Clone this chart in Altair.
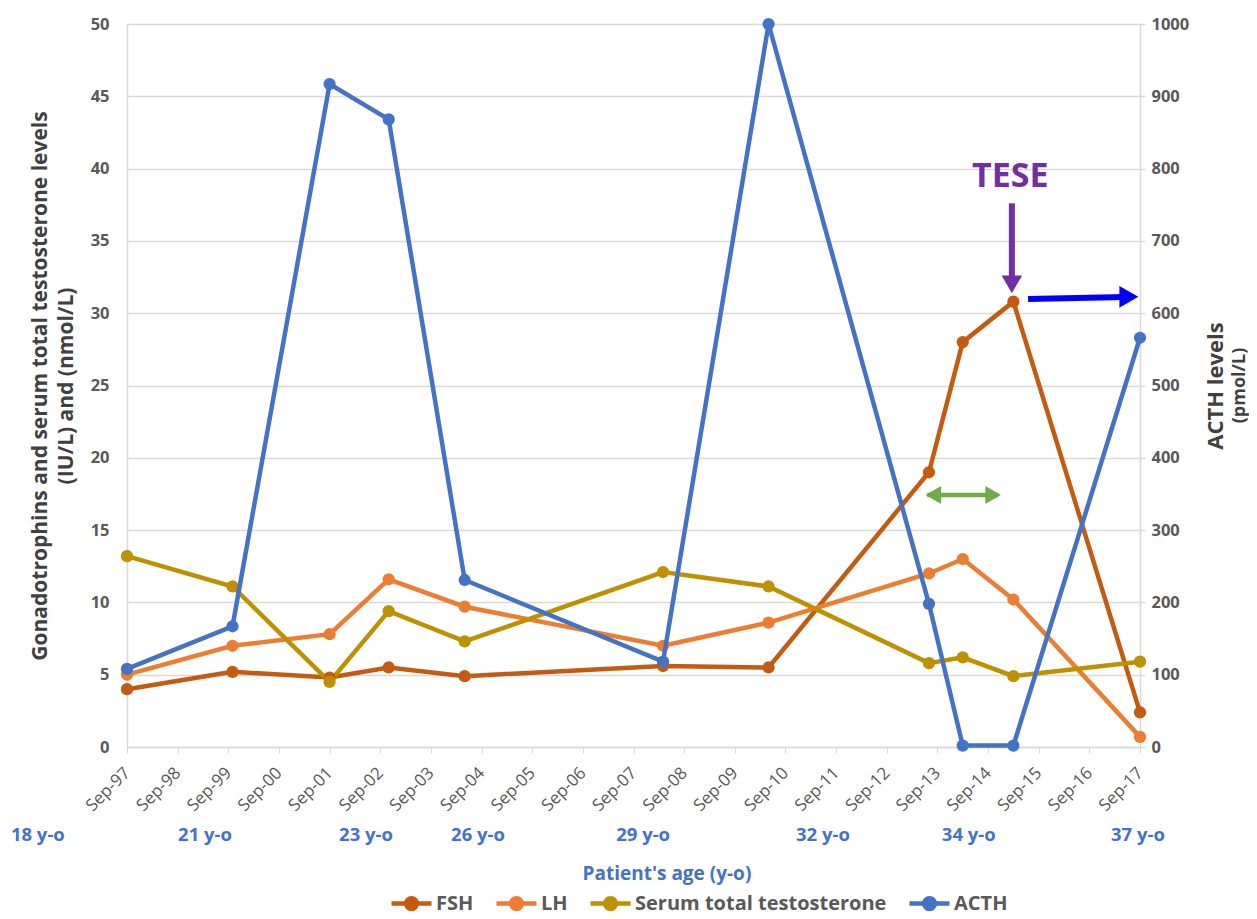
import json
import altair as alt
import pandas as pd

# ---------------- data ----------------
DATES = ["1997-09", "1999-10", "2001-09", "2002-11", "2004-05", "2008-04",
         "2010-05", "2013-07", "2014-03", "2015-03", "2017-09"]
FSH = [4.0, 5.2, 4.8, 5.5, 4.9, 5.6, 5.5, 19.0, 28.0, 30.8, 2.4]
LH = [5.0, 7.0, 7.8, 11.6, 9.7, 7.0, 8.6, 12.0, 13.0, 10.2, 0.7]
TESTO = [13.2, 11.1, 4.5, 9.4, 7.3, 12.1, 11.1, 5.8, 6.2, 4.9, 5.9]
ACTH = [108, 167, 917, 868, 231, 118, 1000, 198, 2, 2, 566]

SERIES = ["FSH", "LH", "Serum total testosterone", "ACTH"]
COLORS = ["#C55A11", "#ED7D31", "#BF9000", "#4472C4"]

TICK_LABELS = ["Sep-97", "Sep-98", "Sep-99", "Sep-00", "Sep-01", "Sep-02", "Sep-03",
               "Sep-04", "Sep-05", "Sep-06", "Sep-07", "Sep-08", "Sep-09", "Sep-10",
               "Sep-11", "Sep-12", "Sep-13", "Sep-14", "Sep-15", "Sep-16", "Sep-17"]
LEFT_TICKS = [0, 5, 10, 15, 20, 25, 30, 35, 40, 45, 50]
RIGHT_TICKS = [0, 100, 200, 300, 400, 500, 600, 700, 800, 900, 1000]

AGE_LABELS = ["18 y-o", "21 y-o", "23 y-o", "26 y-o", "29 y-o", "32 y-o", "34 y-o", "37 y-o"]
AGE_X = [-1.76, 1.54, 4.72, 6.93, 10.19, 13.74, 16.62, 19.96]

# annotation arrows (years since Sep-97, left-axis units)
ARROW_X1 = [17.47, 17.79, 15.80]
ARROW_X2 = [17.47, 19.70, 17.20]
ARROW_Y1 = [37.6, 30.98, 17.43]
ARROW_Y2 = [32.3, 31.12, 17.43]
ARROW_COLOR = ["#7030A0", "#0000FF", "#70AD47"]
ARROW_W = [6, 6, 4.5]

HEAD_X = [17.47, 19.78, 15.92, 17.10]
HEAD_Y = [32.0, 31.13, 17.43, 17.43]
HEAD_SHAPE = ["triangle-down", "triangle-right", "triangle-left", "triangle-right"]
HEAD_COLOR = ["#7030A0", "#0000FF", "#70AD47", "#70AD47"]
HEAD_SIZE = [420, 480, 320, 320]

FONT = "Open Sans"
GRAY = "#595959"
DARK = "#404040"


def to_years(d):
    y, m = d.split("-")
    return (int(y) - 1997) + (int(m) - 9) / 12.0


XS = [to_years(d) for d in DATES]

rows = []
for name, vals in zip(SERIES[:3], [FSH, LH, TESTO]):
    for x, v in zip(XS, vals):
        rows.append({"x": x, "value": v, "series": name})
df_left = pd.DataFrame(rows)
df_acth = pd.DataFrame({"x": XS, "value": ACTH, "series": "ACTH"})

df_arrows = pd.DataFrame({"x1": ARROW_X1, "x2": ARROW_X2, "y1": ARROW_Y1, "y2": ARROW_Y2,
                          "color": ARROW_COLOR, "w": ARROW_W})
df_heads = pd.DataFrame({"x": HEAD_X, "y": HEAD_Y, "shape": HEAD_SHAPE,
                         "color": HEAD_COLOR, "size": HEAD_SIZE})
df_tese = pd.DataFrame({"x": [17.44], "y": [39.4], "t": ["TESE"]})
df_age = pd.DataFrame({"x": AGE_X, "t": AGE_LABELS})
df_age_title = pd.DataFrame({"x": [10.66], "t": ["Patient's age (y-o)"]})

W, H = 1013, 723

xscale = alt.Scale(domain=[0, 20], nice=False, zero=False)
lscale = alt.Scale(domain=[0, 50], nice=False, zero=True)
rscale = alt.Scale(domain=[0, 1000], nice=False, zero=True)
cscale = alt.Scale(domain=SERIES, range=COLORS)

x_axis = alt.Axis(
    values=list(range(21)),
    labelExpr=json.dumps(TICK_LABELS) + "[datum.value]",
    labelAngle=315, labelAlign="right", labelBaseline="middle", labelPadding=17,
    labelFont=FONT, labelFontSize=17, labelColor=GRAY,
    grid=False, ticks=True, tickSize=6, tickColor="#D9D9D9", tickWidth=1,
    domainColor="#D9D9D9", domainWidth=1.5, title=None, labelOverlap=False,
)

LEG_PATH = ("M-1,0L1,0M-0.27,0A0.27,0.27,0,1,1,0.27,0"
            "A0.27,0.27,0,1,1,-0.27,0Z")
legend = alt.Legend(
    orient="none", legendX=262, legendY=857, direction="horizontal", title=None,
    symbolType=LEG_PATH, symbolSize=1600, symbolStrokeWidth=4.5,
    labelFont=FONT, labelFontSize=20, labelFontWeight="bold", labelColor=GRAY,
    labelOffset=2, columnPadding=13, labelLimit=400,
)

color_enc = alt.Color("series:N", scale=cscale, legend=legend, sort=SERIES)

left_axis = alt.Axis(
    values=LEFT_TICKS, grid=True, gridColor="#D9D9D9", gridWidth=1.5,
    ticks=False, domain=True, domainColor="#D9D9D9", domainWidth=1.5,
    labelFont=FONT, labelFontSize=16.5, labelFontWeight="bold", labelColor=GRAY,
    labelPadding=18,
    title=["Gonadotrophins and serum total testosterone levels", "(IU/L) and (nmol/L)"],
    titleFont=FONT, titleFontSize=21, titleFontWeight="bold", titleColor=DARK,
    titleLineHeight=26, titleAngle=270, titleAlign="center", titleBaseline="middle",
    titleX=-87, titleY=H / 2,
)

right_axis = alt.Axis(
    orient="right", values=RIGHT_TICKS, grid=False, format="d",
    ticks=True, tickSize=5, tickColor="#D9D9D9", tickWidth=1.5,
    domain=True, domainColor="#D9D9D9", domainWidth=1.5,
    labelFont=FONT, labelFontSize=16.5, labelFontWeight="bold", labelColor=GRAY,
    labelPadding=6,
    title="ACTH levels", titleFont=FONT, titleFontSize=22, titleFontWeight="bold",
    titleColor=DARK, titleAngle=270, titleAlign="center", titleBaseline="middle",
    titleX=75, titleY=H / 2,
)

X_ENC = dict(scale=xscale, axis=x_axis)
Y_ENC = dict(scale=lscale, axis=left_axis)

lines_left = alt.Chart(df_left).mark_line(
    strokeWidth=4.5,
    point=alt.OverlayMarkDef(size=150, filled=True, opacity=1),
).encode(
    x=alt.X("x:Q", **X_ENC),
    y=alt.Y("value:Q", **Y_ENC),
    color=color_enc,
    order=alt.Order("x:Q"),
)

arrows = alt.Chart(df_arrows).mark_rule().encode(
    x=alt.X("x1:Q", **X_ENC),
    x2="x2:Q",
    y=alt.Y("y1:Q", **Y_ENC),
    y2="y2:Q",
    stroke=alt.Stroke("color:N", scale=None),
    strokeWidth=alt.StrokeWidth("w:Q", scale=None),
)

heads = alt.Chart(df_heads).mark_point(filled=True, opacity=1, strokeWidth=0).encode(
    x=alt.X("x:Q", **X_ENC),
    y=alt.Y("y:Q", **Y_ENC),
    shape=alt.Shape("shape:N", scale=None),
    fill=alt.Fill("color:N", scale=None),
    size=alt.Size("size:Q", scale=None),
)

tese = alt.Chart(df_tese).mark_text(
    font=FONT, fontSize=34, fontWeight="bold", color="#7030A0", baseline="middle"
).encode(
    x=alt.X("x:Q", **X_ENC),
    y=alt.Y("y:Q", **Y_ENC),
    text="t:N",
)

ages = alt.Chart(df_age).mark_text(
    font=FONT, fontSize=18.5, fontWeight="bold", color="#4472C4", baseline="middle"
).encode(
    x=alt.X("x:Q", **X_ENC),
    y=alt.value(811),
    text="t:N",
)

age_title = alt.Chart(df_age_title).mark_text(
    font=FONT, fontSize=19, fontWeight="bold", color="#4472C4", baseline="middle"
).encode(
    x=alt.X("x:Q", **X_ENC),
    y=alt.value(850),
    text="t:N",
)

pmol = alt.Chart(pd.DataFrame({"t": ["(pmol/L)"]})).mark_text(
    font=FONT, fontSize=18, fontWeight="bold", color=DARK, angle=270,
    baseline="middle", align="center"
).encode(
    x=alt.value(1113),
    y=alt.value(H / 2),
    text="t:N",
)

left = alt.layer(lines_left, arrows, heads, tese, ages, age_title, pmol)

acth = alt.Chart(df_acth).mark_line(
    strokeWidth=4.5,
    point=alt.OverlayMarkDef(size=150, filled=True, opacity=1),
).encode(
    x=alt.X("x:Q", **X_ENC),
    y=alt.Y("value:Q", scale=rscale, axis=right_axis),
    color=color_enc,
    order=alt.Order("x:Q"),
)

chart = alt.layer(left, acth).resolve_scale(y="independent").properties(
    width=W, height=H,
    autosize=alt.AutoSizeParams(type="none"),
    padding={"left": 119, "top": 16, "right": 109, "bottom": 172},
    background="white",
).configure_view(stroke=None)

chart.save("out.html", embed_options={"renderer": "svg", "actions": False})
